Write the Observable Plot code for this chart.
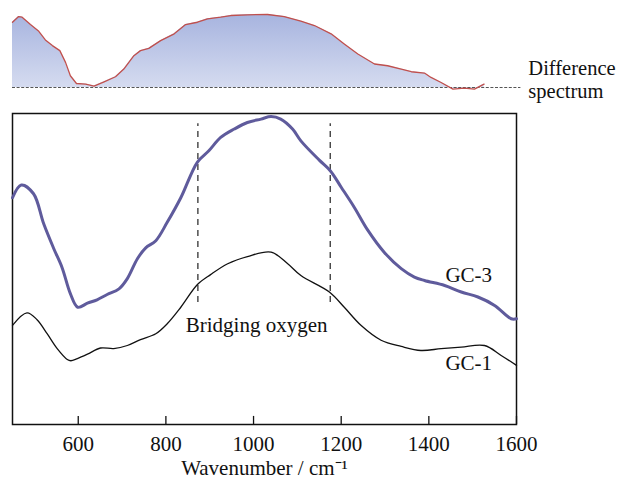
<!DOCTYPE html>
<html>
<head>
<meta charset="utf-8">
<script src="https://cdn.jsdelivr.net/npm/d3@7"></script>
<script src="https://cdn.jsdelivr.net/npm/@observablehq/plot@0.6"></script>
<style>
  html, body { margin: 0; padding: 0; background: #fff; }
  #chart svg { display: block; }
  #chart { width: 620px; height: 478px; overflow: hidden; }
</style>
</head>
<body>
<div id="chart"></div>
<script>
// Wavenumber (cm^-1) and intensities (arbitrary units)
const gc3Wave = [450,470,498,521,544,563,582,599,621,643,666,693,712,735,754,777,803,834,872,898,925,956,986,1017,1040,1062,1089,1108,1150,1175,1200,1230,1261,1298,1337,1367,1390,1436,1474,1512,1550,1588,1600];
const gc3Int  = [0.729,0.770,0.742,0.646,0.566,0.505,0.421,0.377,0.390,0.401,0.418,0.436,0.469,0.533,0.568,0.591,0.650,0.729,0.844,0.880,0.923,0.950,0.971,0.982,0.990,0.982,0.950,0.912,0.850,0.816,0.763,0.698,0.624,0.554,0.501,0.474,0.463,0.447,0.426,0.410,0.383,0.340,0.340];

const gc1Wave = [450,483,506,529,552,575,583,598,621,651,681,712,742,777,803,834,872,902,941,986,1040,1078,1108,1173,1207,1245,1291,1337,1382,1428,1474,1527,1565,1600];
const gc1Int  = [0.319,0.359,0.337,0.292,0.244,0.209,0.205,0.212,0.226,0.246,0.244,0.254,0.273,0.292,0.324,0.377,0.450,0.482,0.517,0.540,0.554,0.517,0.479,0.426,0.377,0.319,0.271,0.251,0.238,0.244,0.249,0.254,0.222,0.190];

const diffWave = [450,464,472,491,510,525,541,558,571,582,596,617,636,659,685,704,727,742,761,788,819,845,872,895,925,948,986,1032,1070,1108,1139,1177,1207,1238,1276,1306,1337,1360,1390,1405,1428,1455,1481,1504,1526];
const diffInt  = [0.894,0.972,0.963,0.862,0.770,0.652,0.574,0.505,0.344,0.161,0.055,0.047,0.019,0.078,0.147,0.253,0.436,0.505,0.536,0.642,0.735,0.862,0.894,0.941,0.963,0.986,0.996,1.000,0.972,0.908,0.849,0.735,0.597,0.459,0.322,0.298,0.253,0.216,0.198,0.138,0.069,-0.022,-0.008,-0.022,0.047];

const xTicks = [600, 800, 1000, 1200, 1400, 1600];
const bridgeLines = [873, 1175];
const bridgeSpan = [0.392, 0.967];

const seriesLabels = [
  {x: 1491, y: 0.479, text: "GC-3"},
  {x: 1491, y: 0.197, text: "GC-1"},
  {x: 1007, y: 0.318, text: "Bridging oxygen"}
];
const diffLabel = {x: 1627, y: 0.12, text: "Difference\nspectrum"};

const xDomain = [450, 1600];
const FONT = "'Liberation Serif', 'Times New Roman', serif";

const gc3 = gc3Wave.map((w, i) => ({w, v: gc3Int[i]}));
const gc1 = gc1Wave.map((w, i) => ({w, v: gc1Int[i]}));
const diff = diffWave.map((w, i) => ({w, v: diffInt[i]}));

function gradientDefs() {
  const ns = "http://www.w3.org/2000/svg";
  const defs = document.createElementNS(ns, "defs");
  const g = document.createElementNS(ns, "linearGradient");
  g.setAttribute("id", "diffGrad");
  g.setAttribute("x1", "0"); g.setAttribute("y1", "0");
  g.setAttribute("x2", "0"); g.setAttribute("y2", "1");
  [["0%", "#a7b4df"], ["100%", "#d6dcf0"]].forEach(([o, c]) => {
    const s = document.createElementNS(ns, "stop");
    s.setAttribute("offset", o); s.setAttribute("stop-color", c);
    g.appendChild(s);
  });
  defs.appendChild(g);
  return defs;
}

const topPlot = Plot.plot({
  width: 620,
  height: 100,
  marginLeft: 12,
  marginRight: 104,
  marginTop: 14,
  marginBottom: 13,
  style: {fontFamily: FONT, fontSize: "21px", background: "transparent", overflow: "visible"},
  x: {domain: xDomain, axis: null},
  y: {domain: [0, 1], axis: null},
  marks: [
    gradientDefs,
    Plot.areaY(diff, {x: "w", y1: 0, y2: "v", fill: "url(#diffGrad)", curve: "linear"}),
    Plot.ruleY([0], {x1: 450, x2: 1610, stroke: "#555", strokeWidth: 1.2, strokeDasharray: "3,1.6"}),
    Plot.lineY(diff, {x: "w", y: "v", stroke: "#c0504d", strokeWidth: 1.3}),
    Plot.text([diffLabel], {x: "x", y: "y", text: "text", textAnchor: "start", fontSize: 20.5, lineHeight: 1.12, fill: "#111"})
  ]
});

const bottomPlot = Plot.plot({
  width: 620,
  height: 378,
  marginLeft: 12,
  marginRight: 104,
  marginTop: 13,
  marginBottom: 54,
  style: {fontFamily: FONT, fontSize: "21px", background: "transparent", overflow: "visible"},
  x: {domain: xDomain},
  y: {domain: [0, 1], axis: null},
  marks: [
    Plot.frame({stroke: "#111", strokeWidth: 1.5}),
    Plot.axisX({ticks: xTicks, tickSize: 0, tickPadding: 12, tickFormat: d => String(d), fill: "#111", label: null}),
    Plot.ruleX(xTicks, {y1: 0, y2: 0.026, stroke: "#111", strokeWidth: 1.3}),
    Plot.ruleX(bridgeLines, {y1: bridgeSpan[0], y2: bridgeSpan[1], stroke: "#333", strokeWidth: 1.3, strokeDasharray: "6,5"}),
    Plot.lineY(gc1, {x: "w", y: "v", stroke: "#111", strokeWidth: 1.3, curve: "catmull-rom"}),
    Plot.lineY(gc3, {x: "w", y: "v", stroke: "#5f5b9c", strokeWidth: 3, curve: "catmull-rom"}),
    Plot.text(seriesLabels, {x: "x", y: "y", text: "text", fill: "#111"}),
    Plot.text(["Wavenumber / cm⁻¹"], {frameAnchor: "bottom", dy: 50, fill: "#111"})
  ]
});

const el = document.getElementById("chart");
el.appendChild(topPlot);
el.appendChild(bottomPlot);
</script>
</body>
</html>
